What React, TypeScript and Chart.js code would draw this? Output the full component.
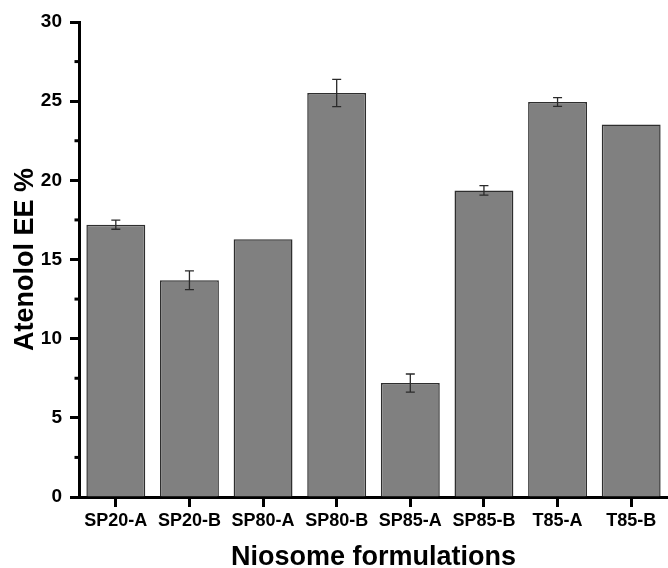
import { useEffect, useRef } from "react";
import { Chart, registerables } from "chart.js";

Chart.register(...registerables);

const categories = ["SP20-A", "SP20-B", "SP80-A", "SP80-B", "SP85-A", "SP85-B", "T85-A", "T85-B"];
const eeValues = [17.2, 13.69, 16.28, 25.52, 7.2, 19.36, 24.95, 23.52];
const eeErrors = [0.29, 0.59, 0, 0.86, 0.57, 0.3, 0.28, 0];
const minorTickValues = [2.5, 7.5, 12.5, 17.5, 22.5, 27.5];
const yMin = 0;
const yMax = 30;
const yStep = 5;

const FONT = "'Liberation Sans', Arial, Helvetica, sans-serif";

const errorBarPlugin = {
  id: "errorBars",
  afterDatasetsDraw(chart: any) {
    const meta = chart.getDatasetMeta(0);
    const yScale = chart.scales.y;
    const ctx = chart.ctx;
    ctx.save();
    ctx.strokeStyle = "#2a2a2a";
    ctx.lineWidth = 1.3;
    meta.data.forEach((bar: any, i: number) => {
      const err = eeErrors[i];
      if (!err) return;
      const v = eeValues[i];
      const x = bar.x;
      const yTop = yScale.getPixelForValue(v + err);
      const yBot = yScale.getPixelForValue(v - err);
      const cap = 4.5;
      ctx.beginPath();
      ctx.moveTo(x, yTop);
      ctx.lineTo(x, yBot);
      ctx.moveTo(x - cap, yTop);
      ctx.lineTo(x + cap, yTop);
      ctx.moveTo(x - cap, yBot);
      ctx.lineTo(x + cap, yBot);
      ctx.stroke();
    });
    ctx.restore();
  },
};

const minorTickPlugin = {
  id: "minorTicks",
  afterDraw(chart: any) {
    const yScale = chart.scales.y;
    const ctx = chart.ctx;
    const x0 = chart.chartArea.left;
    ctx.save();
    ctx.strokeStyle = "#000";
    ctx.lineWidth = 3;
    minorTickValues.forEach((v) => {
      const y = yScale.getPixelForValue(v);
      ctx.beginPath();
      ctx.moveTo(x0 - 4.5, y);
      ctx.lineTo(x0, y);
      ctx.stroke();
    });
    ctx.restore();
  },
};

export default function App() {
  const canvasRef = useRef<HTMLCanvasElement | null>(null);

  useEffect(() => {
    document.body.style.margin = "0";
    const canvas = canvasRef.current;
    if (!canvas) return;
    const chart = new Chart(canvas, {
      type: "bar",
      data: {
        labels: categories,
        datasets: [
          {
            data: eeValues,
            backgroundColor: "#808080",
            borderColor: "#2e2e2e",
            borderWidth: 1.5,
            barPercentage: 0.8,
            categoryPercentage: 1,
          },
        ],
      },
      options: {
        responsive: false,
        animation: false,
        devicePixelRatio: 1,
        layout: { padding: { top: 22, left: 0, right: 0, bottom: 0 } },
        plugins: {
          legend: { display: false },
          tooltip: { enabled: false },
        },
        scales: {
          x: {
            afterFit: (s: any) => {
              s.height = 71;
            },
            grid: {
              display: true,
              drawOnChartArea: false,
              offset: false,
              drawTicks: true,
              tickLength: 10,
              tickWidth: 3,
              tickColor: "#000",
            },
            border: { display: true, color: "#000", width: 3 },
            ticks: {
              color: "#000",
              padding: 3,
              maxRotation: 0,
              autoSkip: false,
              font: { family: FONT, size: 18, weight: "bold" },
            },
            title: {
              display: true,
              text: "Niosome formulations",
              color: "#000",
              font: { family: FONT, size: 27, weight: "bold", lineHeight: 1 },
              padding: { top: 0, bottom: -3 },
            },
          },
          y: {
            min: yMin,
            max: yMax,
            afterFit: (s: any) => {
              s.width = 79;
            },
            grid: {
              display: true,
              drawOnChartArea: false,
              drawTicks: true,
              tickLength: 9,
              tickWidth: 3,
              tickColor: "#000",
            },
            border: { display: true, color: "#000", width: 3 },
            ticks: {
              stepSize: yStep,
              color: "#000",
              padding: 8,
              font: { family: FONT, size: 19, weight: "bold" },
            },
            title: {
              display: true,
              text: "Atenolol EE %",
              color: "#000",
              font: { family: FONT, size: 27, weight: "bold", lineHeight: 1.2 },
              padding: { top: 9, bottom: 0 },
            },
          },
        },
      },
      plugins: [errorBarPlugin, minorTickPlugin],
    });
    return () => chart.destroy();
  }, []);

  return (
    <div style={{ width: 668, height: 568 }}>
      <canvas ref={canvasRef} width={668} height={568} style={{ display: "block" }} />
    </div>
  );
}
